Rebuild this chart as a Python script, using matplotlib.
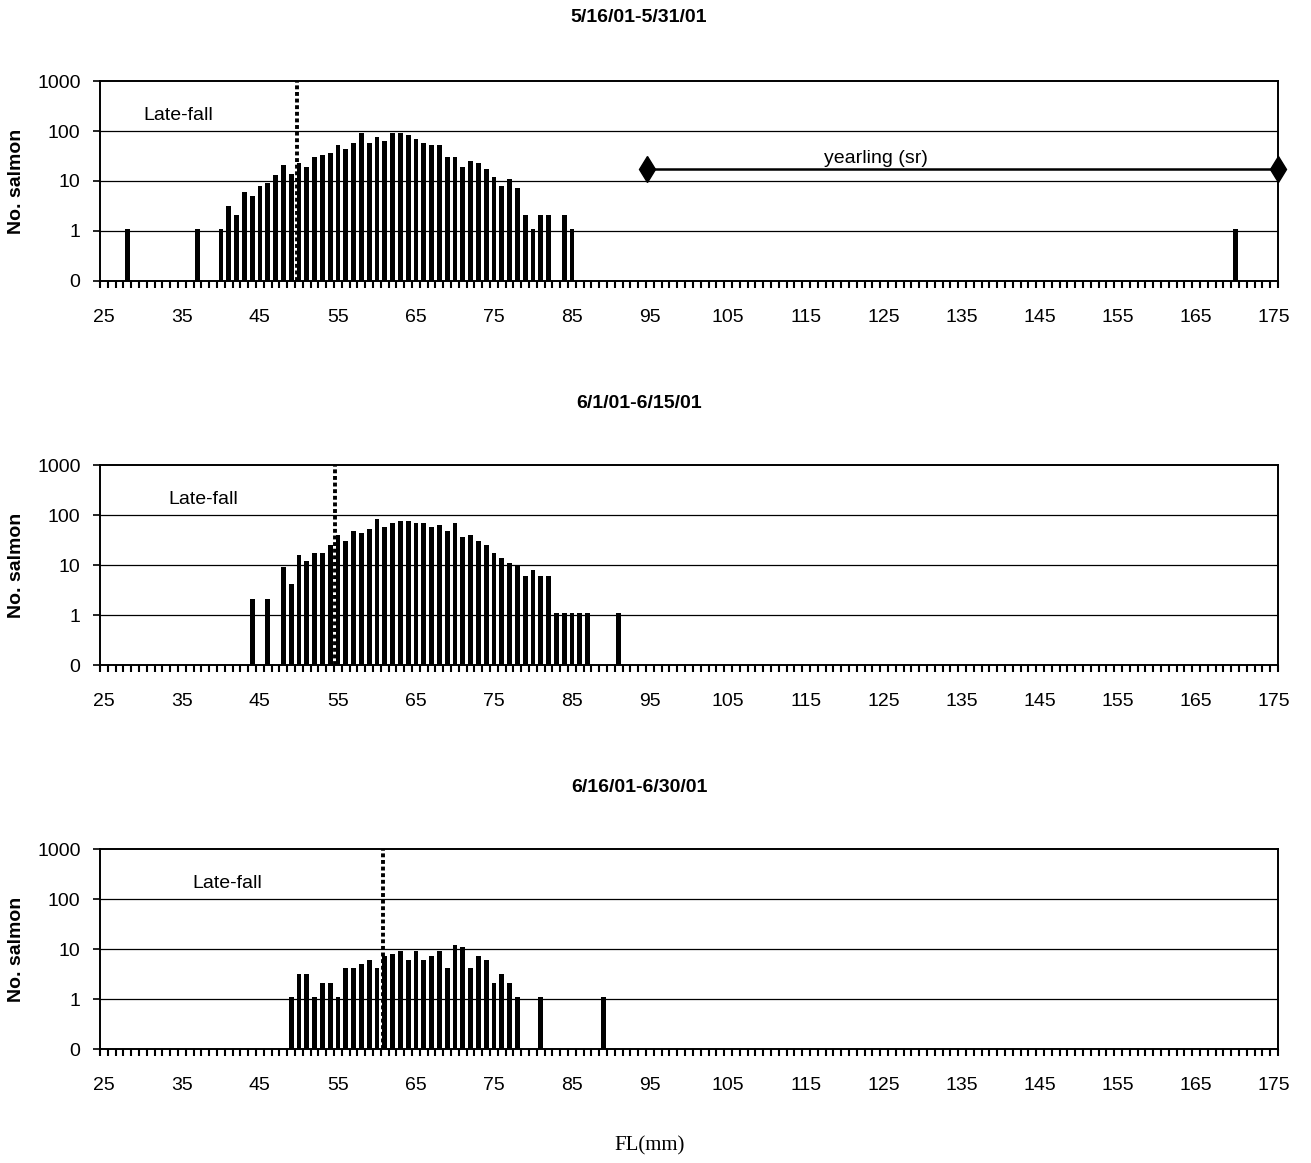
import matplotlib
matplotlib.use("Agg")
import matplotlib.pyplot as plt
from matplotlib.ticker import FixedLocator, NullFormatter

plt.rcParams['font.family'] = ['Liberation Sans', 'DejaVu Sans']

# fork length (mm) and counts, one set per sampling period
titles = ["5/16/01-5/31/01", "6/1/01-6/15/01", "6/16/01-6/30/01"]

fl1 = [28, 37, 40] + list(range(41, 83)) + [84, 85, 170]
n1 = [1, 1, 1,
      3, 2, 6, 5, 8, 9, 13, 21, 14, 23, 19, 30, 33, 36, 52, 44, 57, 91, 57,
      76, 63, 91, 91, 83, 69, 57, 52, 52, 30, 30, 19, 25, 23, 17, 12, 8, 11,
      7, 2, 1, 2, 2,
      2, 1, 1]

fl2 = [44, 46] + list(range(48, 88)) + [91]
n2 = [2, 2,
      9, 4, 16, 12, 17, 17, 25, 40, 30, 48, 44, 52, 83, 58, 69, 76, 76, 69,
      69, 58, 63, 48, 69, 36, 40, 30, 25, 17, 14, 11, 10, 6, 8, 6, 6, 1, 1,
      1, 1, 1,
      1]

fl3 = list(range(49, 79)) + [81, 89]
n3 = [1, 3, 3, 1, 2, 2, 1, 4, 4, 5, 6, 4, 7, 8, 9, 6, 9, 6, 7, 9, 4, 12, 11,
      4, 7, 6, 2, 3, 2, 1,
      1, 1]

# late-fall cutoff (dotted line) per period
cutoffs = [49.7, 54.6, 60.8]
late_fall_x = [30.0, 33.3, 36.3]

# yearling (sr) range shown in the first period
yearling_x = [94.6, 175.5]
yearling_y = 17.4

fl_sets = [fl1, fl2, fl3]
n_sets = [n1, n2, n3]

W, H = 1311, 1163
fig = plt.figure(figsize=(W / 100, H / 100), dpi=100, facecolor="white")

ax_left = 100 / W
ax_width = 1178 / W
ax_height = 200 / H
tops = [81, 465, 849]
title_y = [18, 404, 788]

ylabels = ["0", "1", "10", "100", "1000"]
yticks = [0.1, 1, 10, 100, 1000]
xlabels = list(range(25, 176, 10))

for i in range(3):
    bottom = 1 - (tops[i] + ax_height * H) / H
    ax = fig.add_axes([ax_left, bottom, ax_width, ax_height])
    ax.set_yscale("log")
    ax.set_ylim(0.1, 1000)
    ax.set_xlim(24.5, 175.5)

    ax.bar(fl_sets[i], n_sets[i], width=0.62, bottom=0.1, color="black",
           zorder=3)

    for y in [1, 10, 100]:
        ax.axhline(y, color="black", lw=0.9, zorder=1)

    ax.axvline(cutoffs[i], color="black", lw=2.8, dashes=(1.0, 0.7), zorder=4)
    ax.text(late_fall_x[i], 205, "Late-fall", fontsize=14, va="center",
            ha="left")

    if i == 0:
        ax.plot(yearling_x, [yearling_y, yearling_y], color="black", lw=1.8,
                marker="d", markersize=13, clip_on=False, zorder=5)
        ax.text(124, yearling_y * 1.12, "yearling (sr)", fontsize=14,
                ha="center", va="bottom")

    ax.set_yticks(yticks)
    ax.set_yticklabels(ylabels)
    ax.yaxis.set_minor_locator(FixedLocator([]))
    ax.tick_params(axis="y", which="major", direction="out", length=5,
                   width=1.2, labelsize=14, pad=9)

    ax.set_xticks(xlabels)
    ax.set_xticklabels([str(v) for v in xlabels])
    ax.xaxis.set_minor_locator(FixedLocator([v + 0.5 for v in range(24, 176)]))
    ax.xaxis.set_minor_formatter(NullFormatter())
    ax.tick_params(axis="x", which="major", length=0, labelsize=14, pad=20)
    ax.tick_params(axis="x", which="minor", direction="out", length=5,
                   width=1.5)

    for side in ["top", "bottom", "left", "right"]:
        ax.spines[side].set_linewidth(1.4)
        ax.spines[side].set_color("black")

    ax.set_ylabel("No. salmon", fontsize=14, fontweight="bold")
    ax.yaxis.set_label_coords(-0.064, 0.5)

    fig.text(639 / W, 1 - title_y[i] / H, titles[i], fontsize=14,
             fontweight="bold", ha="center", va="center")

fig.text(650 / W, 1 - 1146 / H, "FL(mm)", fontsize=15,
         family=["Liberation Serif", "DejaVu Serif"], ha="center",
         va="center")

fig.savefig("out.png", dpi=100, facecolor="white")
